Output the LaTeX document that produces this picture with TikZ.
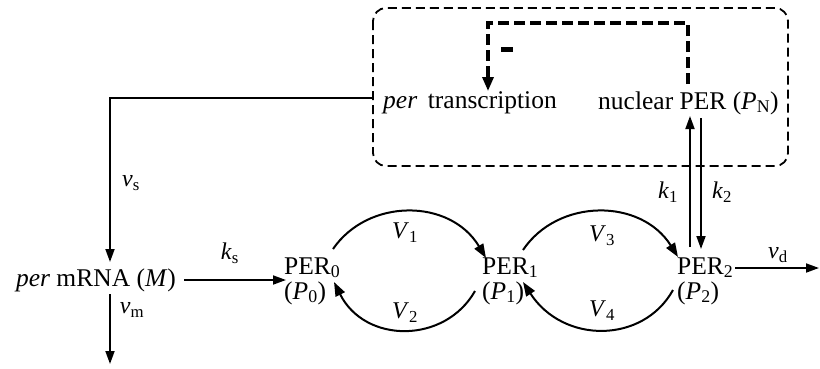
\documentclass[tikz,border=0pt]{standalone}
\usepackage{fontspec}
\setmainfont{Liberation Serif}
\usetikzlibrary{arrows.meta}
\newcommand{\sbi}[2]{\textit{#1}\textsubscript{\upshape #2}}
\begin{document}
\begin{tikzpicture}[x=1pt,y=-1pt,
  txt/.style={inner sep=0pt,font=\fontsize{25.5}{25}\selectfont},
  lbl/.style={inner sep=0pt,font=\fontsize{24}{24}\selectfont},
  arr/.style={line width=1.8pt,-{Triangle[length=13pt,width=9pt]}},
  arcarr/.style={line width=2pt,-{Triangle[length=14pt,width=10pt]}},
  boxdash/.style={line width=1.8pt,dash pattern=on 9pt off 5pt,rounded corners=13pt},
  fbdash/.style={line width=3.2pt,dash pattern=on 11pt off 5pt,-{Triangle[length=14pt,width=11pt]}}]
\useasboundingbox (0,0) rectangle (820,368);
% compartment
\draw[boxdash] (373,8) rectangle (788,166);
% texts
\node[txt,anchor=west] (trans) at (383,103) {\textit{per}\, transcription};
\node[txt,anchor=west] (nuc) at (598,103) {nuclear PER (\sbi{P}{N})};
\node[txt] (mrna) at (96,280) {\textit{per} mRNA (\textit{M})};
\node[txt,align=left,anchor=west] (per0) at (284,281) {PER\textsubscript{0}\\(\sbi{P}{0})};
\node[txt,align=left,anchor=west] (per1) at (482,281) {PER\textsubscript{1}\\(\sbi{P}{1})};
\node[txt,align=left,anchor=west] (per2) at (677,281) {PER\textsubscript{2}\\(\sbi{P}{2})};
% coordinates
\coordinate (vsS) at (373,98);
\coordinate (mtop) at (110,262);
\coordinate (mbot) at (110,294);
\coordinate (vmE) at (110,364);
\coordinate (ksS) at (184,280);
\coordinate (ksE) at (286,280);
\coordinate (vdS) at (735,268);
\coordinate (vdE) at (819,268);
\coordinate (k1S) at (690,247);
\coordinate (k1E) at (690,116);
\coordinate (k2S) at (701,118);
\coordinate (k2E) at (701,249);
\coordinate (fbS) at (688,84);
\coordinate (fbE) at (488,91);
% connectors
\draw[arr] (vsS) -| (mtop);
\draw[arr] (mbot) -- (vmE);
\draw[arr] (ksS) -- (ksE);
\draw[arr] (vdS) -- (vdE);
\draw[arr] (k1S) -- (k1E);
\draw[arr] (k2S) -- (k2E);
\draw[fbdash] (fbS) -- (688,23) -- (488,23) -- (fbE);
\fill (501,47) rectangle (513,52);
% arcs
\draw[arcarr] (333,249) .. controls (368,198) and (450,198) .. (486,258);
\draw[arcarr] (523,250) .. controls (558,198) and (641,198) .. (678,257);
\draw[arcarr] (475,291) .. controls (445,344) and (365,344) .. (334,282);
\draw[arcarr] (673,290) .. controls (643,344) and (563,344) .. (523,282);
% labels
\node[lbl] (lvs) at (131,183) {\sbi{v}{s}};
\node[lbl] (lvm) at (132,310) {\sbi{v}{m}};
\node[lbl] (lks) at (230,253) {\sbi{k}{s}};
\node[lbl] (lvd) at (778,255) {\sbi{v}{d}};
\node[lbl] (lk1) at (668,192) {\sbi{k}{1}};
\node[lbl] (lk2) at (722,192) {\sbi{k}{2}};
\node[lbl] (lV1) at (405,233) {\sbi{V}{1}};
\node[lbl] (lV2) at (405,313) {\sbi{V}{2}};
\node[lbl] (lV3) at (602,236) {\sbi{V}{3}};
\node[lbl] (lV4) at (602,311) {\sbi{V}{4}};
\end{tikzpicture}
\end{document}
